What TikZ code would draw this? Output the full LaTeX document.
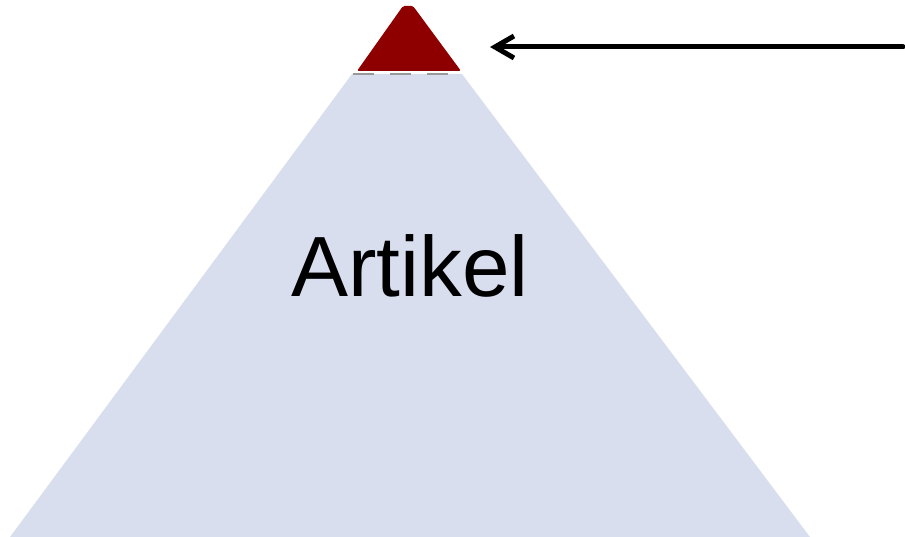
\documentclass[tikz,border=0pt]{standalone}
\usepackage{fontspec}
\setmainfont{Liberation Sans}
\usetikzlibrary{arrows.meta}
\definecolor{pyrblue}{HTML}{D9DEEF}
\definecolor{pyrred}{HTML}{8E0000}
\definecolor{dashgray}{HTML}{999999}
\tikzset{
  base/.style={fill=pyrblue, draw=none},
  peak/.style={fill=pyrred, draw=none, rounded corners=1.5pt},
  sep/.style={draw=dashgray, line width=2pt, dash pattern=on 21pt off 16pt},
  pointer/.style={draw=black, line width=5pt, line cap=round,
    -{Straight Barb[length=19pt,width=22pt,line width=5pt]}}
}
\begin{document}
\begin{tikzpicture}[x=1pt,y=-1pt]
\useasboundingbox (0,0) rectangle (905,537);
\fill[base] (352,74) -- (462,74) -- (810,537) -- (10,537) -- cycle;
\fill[peak] (357,71) -- (403,6) -- (413,6) -- (461,71) -- cycle;
\draw[sep] (353,74) -- (449,74);
\node[font=\fontsize{85.5}{100}\selectfont, inner sep=0pt] (label) at (410,266) {Artikel};
\coordinate (tail) at (903,47);
\coordinate (tip) at (490,47);
\draw[pointer] (tail) -- (tip);
\end{tikzpicture}
\end{document}
